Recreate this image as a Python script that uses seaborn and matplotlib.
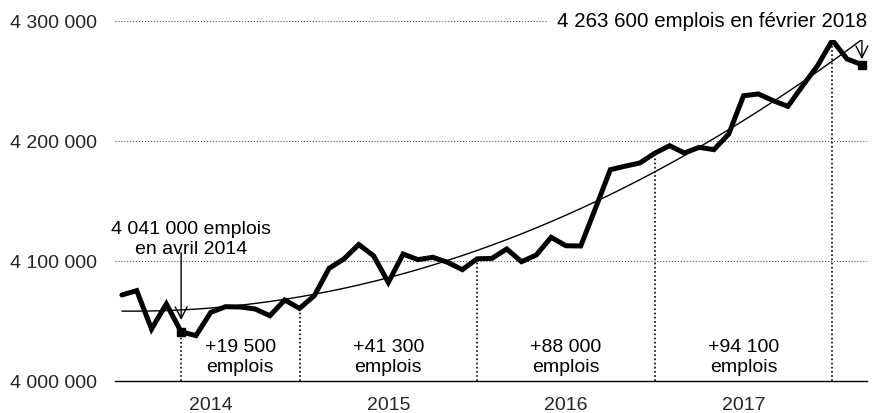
import numpy as np
import pandas as pd
import seaborn as sns
import matplotlib.pyplot as plt

# monthly employment, Dec 2013 -> Feb 2018
mois = pd.period_range('2013-12', '2018-02', freq='M').strftime('%Y-%m').tolist()
emplois = [4071700, 4075300, 4043300, 4064200, 4041000, 4037800, 4057200, 4061900,
           4061700, 4060000, 4054400, 4067500, 4060500, 4071100, 4093900, 4101700,
           4113700, 4104400, 4082200, 4105800, 4101100, 4103100, 4098900, 4092800,
           4101800, 4102200, 4110000, 4099400, 4105000, 4119700, 4112700, 4112500,
           4144000, 4176100, 4179000, 4181700, 4189800, 4196100, 4190000, 4194700,
           4192800, 4205800, 4237700, 4239200, 4233600, 4228900, 4246100, 4262700,
           4283900, 4268300, 4263600]
reperes = ['2014-04', '2014-12', '2015-12', '2016-12', '2017-12']
hausses = ['+19 500', '+41 300', '+88 000', '+94 100']
annees = ['2014', '2015', '2016', '2017']
yticks = [4000000, 4100000, 4200000, 4300000]

sns.set_theme(style='white')
plt.rcParams['font.family'] = ['Liberation Sans', 'DejaVu Sans']
fs = 14

df = pd.DataFrame({'i': np.arange(len(mois)), 'mois': mois, 'emplois': emplois})
coef = np.polyfit(df['i'], df['emplois'], 2)
df['tendance'] = np.polyval(coef, df['i'])

fig = plt.figure(figsize=(8.75, 4.14), dpi=100)
ax = fig.add_axes([0.1314, 0.0773, 0.8594, 0.8696])

for y in yticks[1:]:
    ax.axhline(y, color='#555555', ls=':', lw=0.8, zorder=0)

idx = [mois.index(m) for m in reperes]
ax.vlines(idx, yticks[0], [emplois[i] for i in idx], colors='black',
          linestyles=(0, (1, 1.5)), lw=1.2, zorder=1)

sns.lineplot(data=df, x='i', y='tendance', color='black', lw=1, ax=ax, zorder=2)
sns.lineplot(data=df, x='i', y='emplois', color='black', lw=3.6, ax=ax, zorder=3)
ax.lines[-1].set_solid_joinstyle('miter')

first, last = idx[0], len(mois) - 1
ax.plot([first, last], [emplois[first], emplois[last]], 's', color='black', ms=6, zorder=4)

for k, txt in enumerate(hausses):
    ax.text((idx[k] + idx[k + 1]) / 2, 4020500, txt + '\nemplois', ha='center',
            va='center', fontsize=fs, color='black', linespacing=1.25)

arrow = dict(arrowstyle='->,head_length=0.7,head_width=0.36', color='black', lw=1)
ax.annotate('', xy=(first, emplois[first]), xytext=(0, 57), textcoords='offset points',
            arrowprops=dict(arrow, shrinkA=0, shrinkB=8.5))
ax.annotate('4 041 000 emplois\nen avril 2014', xy=(first, emplois[first]),
            xytext=(7, 54), textcoords='offset points', ha='center', va='bottom',
            fontsize=fs, color='black', linespacing=1.25)
ax.annotate('', xy=(last, emplois[last]), xytext=(0, 24), textcoords='offset points',
            arrowprops=dict(arrow, shrinkA=0, shrinkB=4))
ax.text(50.34, yticks[-1], '4 263 600 emplois en février 2018', ha='right', va='center',
        fontsize=14.8, color='black',
        bbox=dict(boxstyle='square,pad=0.45', fc='white', ec='none'), zorder=5)

ax.set_xlim(-0.47, 50.34)
ax.set_ylim(yticks[0], yticks[-1])
ax.set_yticks(yticks)
ax.set_yticklabels([f'{v:,}'.replace(',', ' ') for v in yticks], fontsize=fs)
ax.set_xticks([mois.index(a + '-06') for a in annees])
ax.set_xticklabels(annees, fontsize=fs)
ax.tick_params(axis='y', length=0, pad=13)
ax.tick_params(axis='x', length=0, pad=11)
ax.set_xlabel('')
ax.set_ylabel('')
for s in ['top', 'right', 'left']:
    ax.spines[s].set_visible(False)
ax.spines['bottom'].set_color('black')
ax.spines['bottom'].set_linewidth(1)

fig.savefig('out.png', dpi=100)
